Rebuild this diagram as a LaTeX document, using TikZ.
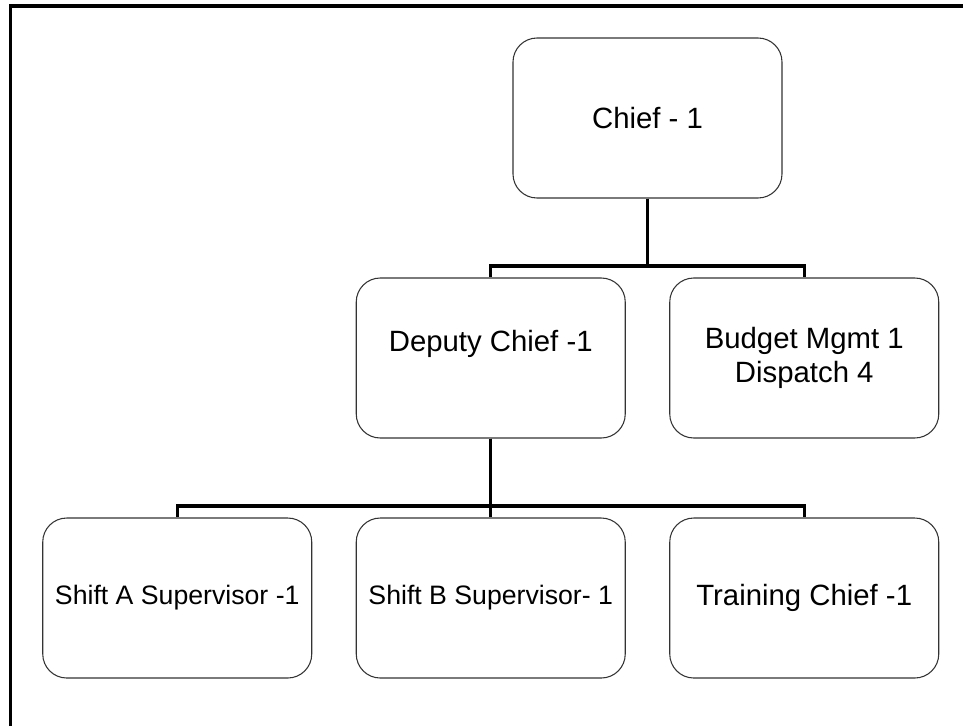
\documentclass[tikz,border=0pt]{standalone}
\usepackage{fontspec}
\setmainfont{Liberation Sans}
\usetikzlibrary{calc}

\begin{document}
\begin{tikzpicture}[x=0.75pt, y=-0.75pt,
  box/.style={draw=black!80, line width=0.8pt, fill=white, rounded corners=18pt,
    minimum width=201.75pt, minimum height=120pt, align=center,
    font=\fontsize{22}{26}\selectfont},
  small/.style={font=\fontsize{20}{24}\selectfont},
  link/.style={draw, line width=2.3pt},
  level distance=180pt, sibling distance=235.125pt,
  edge from parent/.style={link},
  edge from parent path={(\tikzparentnode.south) |- ($(\tikzchildnode.north)+(0,8.6pt)$) -| (\tikzchildnode.north)}]
  \useasboundingbox (0,0) rectangle (963,726);
  % frame
  \draw[line width=2.4pt] (10.5,726) |- (963,6);
  \node[box] (chief) at (647.5,118) {Chief - 1}
    child { node[box] (deputy) {Deputy Chief -1\\[-8pt]\strut}
      child { node[box, small] (shiftA) {Shift A Supervisor -1} }
      child { node[box, small] (shiftB) {Shift B Supervisor- 1} }
      child { node[box] (training) {Training Chief -1} }
    }
    child { node[box] (budget) {Budget Mgmt 1\\Dispatch 4} };
\end{tikzpicture}
\end{document}
